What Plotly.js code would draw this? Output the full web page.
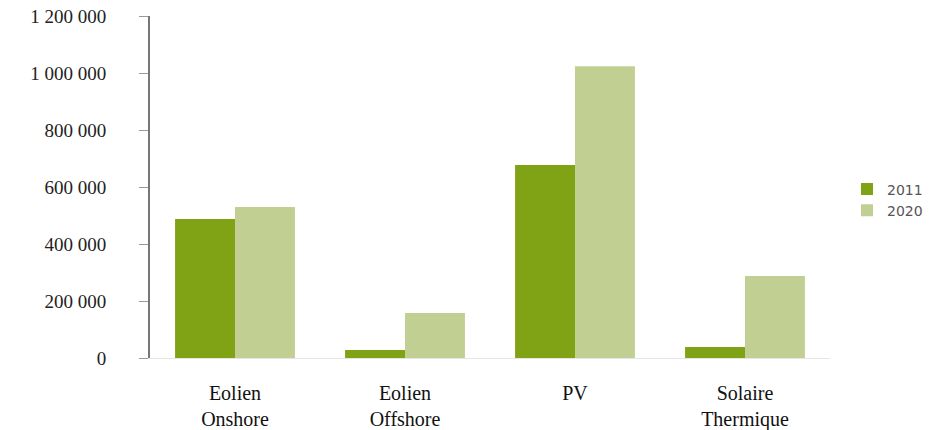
<!DOCTYPE html>
<html>
<head>
<meta charset="utf-8">
<script src="https://cdn.plot.ly/plotly-3.0.1.min.js"></script>
<style>html,body{margin:0;padding:0;background:#fff;}#chart{width:946px;height:430px;}</style>
</head>
<body>
<div id="chart"></div>
<script>
const categories = ["Eolien<br>Onshore", "Eolien<br>Offshore", "PV", "Solaire<br>Thermique"];
const series2011 = [488000, 28000, 677000, 39000];
const series2020 = [530000, 158000, 1024000, 288000];
const yTicks = [0, 200000, 400000, 600000, 800000, 1000000, 1200000];
const yTickLabels = ["0", "200 000", "400 000", "600 000", "800 000", "1 000 000", "1 200 000"];

const traces = [
  {type: "bar", name: "2011", x: categories, y: series2011,
   marker: {color: "#80a215"}},
  {type: "bar", name: "2020", x: categories, y: series2020,
   marker: {color: "#c2cf92"}}
];

const layout = {
  width: 946, height: 430,
  margin: {l: 150, r: 116, t: 16, b: 72},
  paper_bgcolor: "#fff", plot_bgcolor: "#fff",
  bargap: 0.295, bargroupgap: 0,
  showlegend: true,
  legend: {x: 1.025, y: 0.462, xanchor: "left", yanchor: "middle",
           font: {family: "DejaVu Sans", size: 14, color: "#555"},
           itemwidth: 30, tracegroupgap: 0},
  xaxis: {
    showline: true, linecolor: "#e6e6e6", linewidth: 1,
    ticks: "", tickfont: {family: "Liberation Serif", size: 20, color: "#111"},
    ticklabelstandoff: 17, showgrid: false, zeroline: false
  },
  yaxis: {
    range: [0, 1200000], tickvals: yTicks, ticktext: yTickLabels,
    showline: true, linecolor: "#777", linewidth: 2,
    ticks: "outside", ticklen: 9, tickcolor: "#999", tickwidth: 1,
    tickfont: {family: "Liberation Serif", size: 19, color: "#222"},
    ticklabelstandoff: 29,
    showgrid: false, zeroline: false
  }
};

Plotly.newPlot("chart", traces, layout, {staticPlot: true});
</script>
</body>
</html>
